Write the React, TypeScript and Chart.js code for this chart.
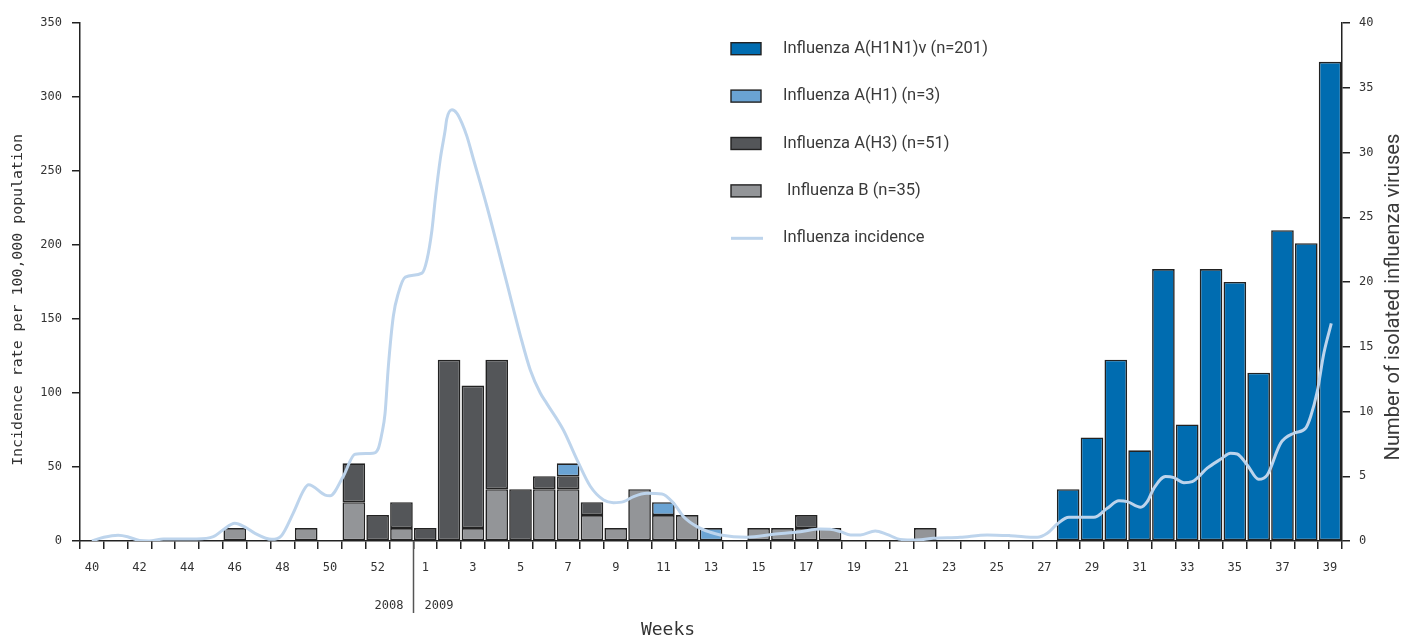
import React, { useEffect, useRef } from 'react';
import { Chart, registerables } from 'chart.js';

Chart.register(...registerables);

// Week categories: 2008 weeks 40-53, then 2009 weeks 1-39
const weeks = [
  '40', '41', '42', '43', '44', '45', '46', '47', '48', '49', '50', '51', '52', '53',
  '1', '2', '3', '4', '5', '6', '7', '8', '9', '10', '11', '12', '13', '14', '15', '16', '17', '18', '19', '20',
  '21', '22', '23', '24', '25', '26', '27', '28', '29', '30', '31', '32', '33', '34', '35', '36', '37', '38', '39',
];

// Number of isolated viruses per week (right axis)
const fluB = [
  0, 0, 0, 0, 0, 0, 1, 0, 0, 1, 0, 3, 0, 1,
  0, 0, 1, 4, 0, 4, 4, 2, 1, 4, 2, 2, 0, 0, 1, 1, 1, 1, 0, 0, 0, 1, 0, 0, 0, 0, 0,
  0, 0, 0, 0, 0, 0, 0, 0, 0, 0, 0, 0,
];
const fluH3 = [
  0, 0, 0, 0, 0, 0, 0, 0, 0, 0, 0, 3, 2, 2,
  1, 14, 11, 10, 4, 1, 1, 1, 0, 0, 0, 0, 0, 0, 0, 0, 1, 0, 0, 0, 0, 0, 0, 0, 0, 0, 0,
  0, 0, 0, 0, 0, 0, 0, 0, 0, 0, 0, 0,
];
const fluH1 = [
  0, 0, 0, 0, 0, 0, 0, 0, 0, 0, 0, 0, 0, 0,
  0, 0, 0, 0, 0, 0, 1, 0, 0, 0, 1, 0, 1, 0, 0, 0, 0, 0, 0, 0, 0, 0, 0, 0, 0, 0, 0,
  0, 0, 0, 0, 0, 0, 0, 0, 0, 0, 0, 0,
];
const fluH1N1v = [
  0, 0, 0, 0, 0, 0, 0, 0, 0, 0, 0, 0, 0, 0,
  0, 0, 0, 0, 0, 0, 0, 0, 0, 0, 0, 0, 0, 0, 0, 0, 0, 0, 0, 0, 0, 0, 0, 0, 0, 0, 0,
  4, 8, 14, 7, 21, 9, 21, 20, 13, 24, 23, 37,
];

// Influenza incidence (left axis): position in week slots (0 = week 40 of 2008) and rate
const incidenceWeek = [
  0, 0.5, 1.1, 1.5, 2.0, 2.4, 3.0, 4.4, 5.1, 5.5, 6.0, 6.45, 6.85, 7.55, 7.95, 8.45, 8.9, 9.1, 9.8, 10.0,
  10.55, 11.05, 11.8, 12.03, 12.18, 12.31, 12.45, 12.66, 12.87, 13.16, 13.86, 14.07, 14.28, 14.42, 14.63,
  14.84, 14.9, 15.12, 15.33, 15.54, 15.75, 16.03, 16.59, 17.0, 17.43, 17.99, 18.41, 18.83, 19.1, 19.8,
  20.37, 20.93, 21.49, 21.9, 22.33, 22.75, 23.31, 23.94, 24.43, 24.85, 25.41, 25.97, 26.39, 27.51, 28.63,
  29.75, 30.59, 31.0, 31.44, 31.86, 32.28, 32.9, 33.39, 33.95, 34.65, 35.35, 36.46, 37.6, 38.58, 39.7,
  40.12, 40.54, 41.03, 42.08, 42.64, 43.13, 43.48, 44.04, 44.32, 44.6, 45.09, 45.44, 45.86, 46.21, 46.84,
  47.4, 47.82, 48.1, 48.52, 49.0, 49.36, 49.92, 50.48, 50.97, 51.18, 51.46, 51.74, 52.05,
];
const incidenceRate = [
  0, 2.5, 3.9, 2.9, 0.3, 0, 1.3, 1.3, 2.9, 7.4, 12, 9.2, 5.2, 1.1, 3.4, 18.7, 34.5, 38, 31, 30.6,
  43.5, 58.6, 59.3, 62.6, 72.8, 86, 118, 152, 167.5, 178.3, 181, 190, 210, 231, 258,
  278, 285, 291.4, 289, 282.4, 273.4, 257.6, 226, 201, 174, 139, 115.6, 100, 93, 75,
  55, 37, 27.7, 25.9, 26.6, 30, 32.2, 31.8, 25.5, 16.4, 9.7, 5.9, 4.1, 2.5, 4.5,
  6.3, 8.1, 7.9, 6.3, 4.1, 4.1, 6.8, 4.5, 1.1, 0.7, 1.8, 2.5, 4.1, 3.6, 2.5,
  5.2, 11.5, 16, 16, 22.1, 27.2, 26.6, 22.8, 26.6, 35.6, 43.5, 42.8, 39.4, 40.1, 49.2,
  55.2, 59.3, 58.8, 51.4, 41.7, 44.6, 66, 72.8, 76.2, 84, 101, 127, 147,
];

const seriesLabels = [
  'Influenza A(H1N1)v (n=201)',
  'Influenza A(H1) (n=3)',
  'Influenza A(H3) (n=51)',
  ' Influenza B (n=35)',
  'Influenza incidence',
];
const seriesColors = ['#006cb0', '#6aa3d3', '#545659', '#939598', '#bdd4ec'];
const yearLabels = ['2008', '2009'];
const titles = {
  left: 'Incidence rate per 100,000 population',
  right: 'Number of isolated influenza viruses',
  bottom: 'Weeks',
};

const MONO = "'DejaVu Sans Mono', monospace";
const COND = "Roboto, 'Noto Sans', sans-serif";
const TEXT = '#333333';
const AXIS = '#222222';

function fitSize(ctx: CanvasRenderingContext2D, text: string, family: string, target: number) {
  ctx.font = `100px ${family}`;
  const w = ctx.measureText(text).width;
  return (100 * target) / w;
}

const overlayPlugin = {
  id: 'overlay',
  afterDraw(chart: any) {
    const { ctx, chartArea, scales } = chart;
    const xs = scales.x;
    ctx.save();
    // year divider between week 53 (2008) and week 1 (2009)
    const xd = Math.round((xs.getPixelForValue(13) + xs.getPixelForValue(14)) / 2) + 0.5;
    ctx.strokeStyle = '#555';
    ctx.lineWidth = 1.5;
    ctx.beginPath();
    ctx.moveTo(xd, chartArea.bottom);
    ctx.lineTo(xd, chartArea.bottom + 72);
    ctx.stroke();
    ctx.fillStyle = TEXT;
    ctx.font = `12px ${MONO}`;
    ctx.textBaseline = 'middle';
    ctx.textAlign = 'right';
    ctx.fillText(yearLabels[0], xd - 10, chartArea.bottom + 65);
    ctx.textAlign = 'left';
    ctx.fillText(yearLabels[1], xd + 11, chartArea.bottom + 65);

    // axis titles
    ctx.textAlign = 'center';
    let s = fitSize(ctx, titles.left, MONO, 332);
    ctx.font = `${s}px ${MONO}`;
    ctx.save();
    ctx.translate(18, 300);
    ctx.rotate(-Math.PI / 2);
    ctx.fillText(titles.left, 0, 0);
    ctx.restore();

    s = fitSize(ctx, titles.right, COND, 327);
    ctx.font = `${s}px ${COND}`;
    ctx.fillStyle = '#3a3a3a';
    ctx.save();
    ctx.translate(1394, 297);
    ctx.rotate(-Math.PI / 2);
    ctx.fillText(titles.right, 0, 0);
    ctx.restore();

    ctx.fillStyle = TEXT;
    ctx.font = `18px ${MONO}`;
    ctx.fillText(titles.bottom, 668, 630);

    // legend
    const ls = fitSize(ctx, seriesLabels[0], COND, 205);
    const rowY0 = 48.7;
    const rowStep = 47.4;
    seriesLabels.forEach((label, i) => {
      const y = rowY0 + i * rowStep;
      if (i < 4) {
        ctx.fillStyle = seriesColors[i];
        ctx.fillRect(731, y - 6, 30, 12);
        ctx.strokeStyle = AXIS;
        ctx.lineWidth = 1.4;
        ctx.strokeRect(731, y - 6, 30, 12);
      } else {
        ctx.strokeStyle = seriesColors[i];
        ctx.lineWidth = 3;
        ctx.beginPath();
        ctx.moveTo(731, y);
        ctx.lineTo(763, y);
        ctx.stroke();
      }
      ctx.fillStyle = '#3a3a3a';
      ctx.font = `${ls}px ${COND}`;
      ctx.textAlign = 'left';
      ctx.textBaseline = 'middle';
      ctx.fillText(label, 783, y);
    });
    ctx.restore();
  },
};

const barDataset = (label: string, data: number[], color: string) => ({
  type: 'bar' as const,
  label,
  data: data.map((v) => (v ? v : null)),
  backgroundColor: color,
  borderColor: AXIS,
  borderWidth: 1.6,
  borderSkipped: false,
  xAxisID: 'x',
  yAxisID: 'y2',
  stack: 'viruses',
  grouped: false,
  order: 1,
  barPercentage: 0.95,
  categoryPercentage: 1,
});

export default function App() {
  const canvasRef = useRef<HTMLCanvasElement>(null);

  useEffect(() => {
    if (!canvasRef.current) return;
    const chart = new Chart(canvasRef.current, {
      type: 'bar',
      data: {
        labels: weeks,
        datasets: [
          barDataset(seriesLabels[3], fluB, seriesColors[3]),
          barDataset(seriesLabels[2], fluH3, seriesColors[2]),
          barDataset(seriesLabels[1], fluH1, seriesColors[1]),
          barDataset(seriesLabels[0], fluH1N1v, seriesColors[0]),
          {
            type: 'line' as const,
            label: seriesLabels[4],
            data: incidenceWeek.map((w, i) => ({ x: w, y: incidenceRate[i] })),
            borderColor: seriesColors[4],
            borderWidth: 3,
            pointRadius: 0,
            tension: 0.4,
            cubicInterpolationMode: 'monotone',
            xAxisID: 'xLine',
            yAxisID: 'y',
            order: 0,
          } as any,
        ],
      },
      options: {
        animation: false,
        responsive: true,
        maintainAspectRatio: false,
        layout: { padding: { top: 23, left: 0, right: 0, bottom: 0 } },
        plugins: { legend: { display: false }, tooltip: { enabled: false } },
        scales: {
          x: {
            type: 'category',
            stacked: true,
            offset: true,
            grid: { offset: true, drawOnChartArea: false, drawTicks: true, tickLength: 8, color: AXIS, lineWidth: 1.5 },
            border: { display: true, color: AXIS, width: 1.5 },
            ticks: {
              autoSkip: false,
              maxRotation: 0,
              padding: 12,
              color: TEXT,
              font: { family: MONO, size: 12 },
              callback: (_v: any, i: number) => (i % 2 === 0 ? weeks[i] : ''),
            },
            afterFit: (s: any) => { s.height = 96; },
          },
          xLine: { type: 'linear', display: false, min: -0.5, max: 52.5, offset: false },
          y: {
            position: 'left',
            min: 0,
            max: 350,
            grid: { drawOnChartArea: false, drawTicks: true, tickLength: 8, color: AXIS, lineWidth: 1.5 },
            border: { display: true, color: AXIS, width: 1.5 },
            ticks: { stepSize: 50, padding: 10, color: TEXT, font: { family: MONO, size: 12 } },
            afterFit: (s: any) => { s.width = 80; },
          },
          y2: {
            position: 'right',
            stacked: true,
            min: 0,
            max: 40,
            grid: { drawOnChartArea: false, drawTicks: true, tickLength: 8, color: AXIS, lineWidth: 1.5 },
            border: { display: true, color: AXIS, width: 1.5 },
            ticks: { stepSize: 5, padding: 9, color: TEXT, font: { family: MONO, size: 12 } },
            afterFit: (s: any) => { s.width = 61; },
          },
        },
      } as any,
      plugins: [overlayPlugin],
    });
    return () => chart.destroy();
  }, []);

  return (
    <div style={{ position: 'absolute', left: 0, top: 0, width: 1403, height: 637, background: '#fff' }}>
      <canvas ref={canvasRef} />
    </div>
  );
}
